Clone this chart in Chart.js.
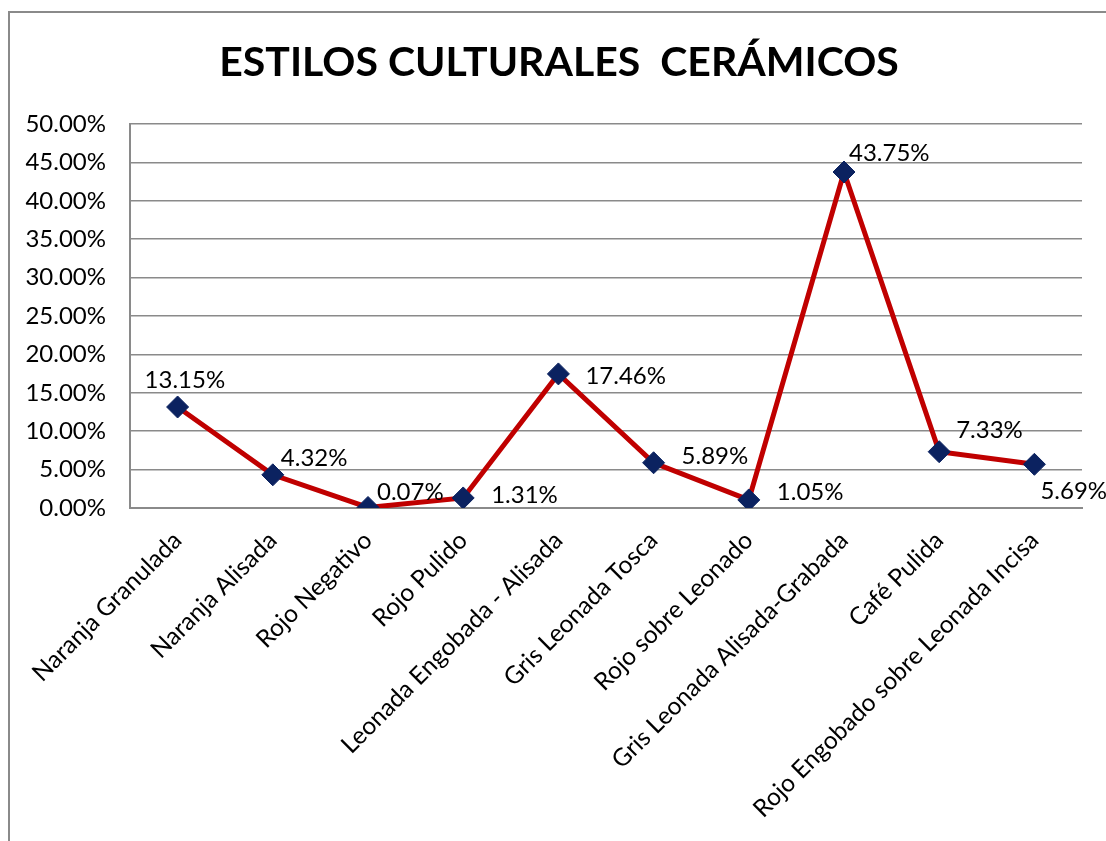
<!DOCTYPE html>
<html>
<head>
<meta charset="utf-8">
<title>Estilos culturales cerámicos</title>
<script src="https://cdn.jsdelivr.net/npm/chart.js@4/dist/chart.umd.min.js"></script>
<style>
	html, body { margin: 0; padding: 0; background: #fff; }
	canvas { display: block; }
</style>
</head>
<body>
<canvas id="estilosChart" width="1106" height="841"></canvas>
<script>
// Porcentaje de cada estilo cultural cerámico
const estilos = [
	'Naranja Granulada',
	'Naranja Alisada',
	'Rojo Negativo',
	'Rojo Pulido',
	'Leonada Engobada - Alisada',
	'Gris Leonada Tosca',
	'Rojo sobre Leonado',
	'Gris Leonada Alisada-Grabada',
	'Café Pulida',
	'Rojo Engobado sobre Leonada Incisa'
];
const porcentajes = [13.15, 4.32, 0.07, 1.31, 17.46, 5.89, 1.05, 43.75, 7.33, 5.69];
const ejeY = { min: 0, max: 50, step: 5 };

const FONT = 'Lato, "Open Sans", sans-serif';

// desplazamiento de cada etiqueta respecto a su punto
const labelOffsets = [
	[-33, -27], [8, -17], [9, -15], [28, -3], [27, 2],
	[28, -6], [28, -8], [5, -19], [17, -21], [6, 27]
];

// marco, título y etiquetas de valor
const decor = {
	id: 'decor',
	beforeDraw(chart) {
		const ctx = chart.ctx;
		ctx.save();
		ctx.strokeStyle = '#8a8a8a';
		ctx.lineWidth = 2;
		ctx.beginPath();
		ctx.moveTo(9, chart.height);
		ctx.lineTo(9, 12);
		ctx.lineTo(chart.width, 12);
		ctx.stroke();
		ctx.fillStyle = '#000';
		ctx.font = 'bold 41px ' + FONT;
		ctx.textAlign = 'center';
		ctx.textBaseline = 'middle';
		ctx.fillText('ESTILOS CULTURALES  CERÁMICOS', 559, 63);
		ctx.restore();
	},
	afterDatasetsDraw(chart) {
		const ctx = chart.ctx;
		const meta = chart.getDatasetMeta(0);
		ctx.save();
		ctx.fillStyle = '#000';
		ctx.font = '24px ' + FONT;
		ctx.textAlign = 'left';
		ctx.textBaseline = 'middle';
		meta.data.forEach((pt, i) => {
			const [dx, dy] = labelOffsets[i];
			ctx.fillText(porcentajes[i].toFixed(2) + '%', pt.x + dx, pt.y + dy);
		});
		ctx.restore();
	}
};

new Chart(document.getElementById('estilosChart'), {
	type: 'line',
	data: {
		labels: estilos,
		datasets: [{
			data: porcentajes,
			borderColor: '#C00000',
			borderWidth: 5,
			tension: 0,
			pointStyle: 'rectRot',
			pointRadius: 11,
			pointBackgroundColor: '#0B2260',
			pointBorderColor: '#0B2260',
			pointBorderWidth: 1
		}]
	},
	options: {
		responsive: false,
		devicePixelRatio: 1,
		animation: false,
		layout: { padding: { left: 0, right: 24, top: 124, bottom: 0 } },
		plugins: {
			legend: { display: false },
			title: { display: false },
			tooltip: { enabled: false }
		},
		scales: {
			x: {
				offset: true,
				afterFit: s => { s.height = 333; },
				grid: { display: false, drawTicks: false },
				border: { color: '#8a8a8a', width: 2 },
				ticks: {
					color: '#000',
					font: { family: FONT, size: 24.5 },
					maxRotation: 45,
					minRotation: 45,
					padding: 18,
					autoSkip: false
				}
			},
			y: {
				min: ejeY.min,
				max: ejeY.max,
				afterFit: s => { s.width = 130; },
				grid: { color: '#8a8a8a', lineWidth: 1.5, drawTicks: false },
				border: { color: '#8a8a8a', width: 2 },
				ticks: {
					stepSize: ejeY.step,
					color: '#000',
					font: { family: FONT, size: 24 },
					padding: 24,
					callback: v => v.toFixed(2) + '%'
				}
			}
		}
	},
	plugins: [decor]
});
</script>
</body>
</html>
